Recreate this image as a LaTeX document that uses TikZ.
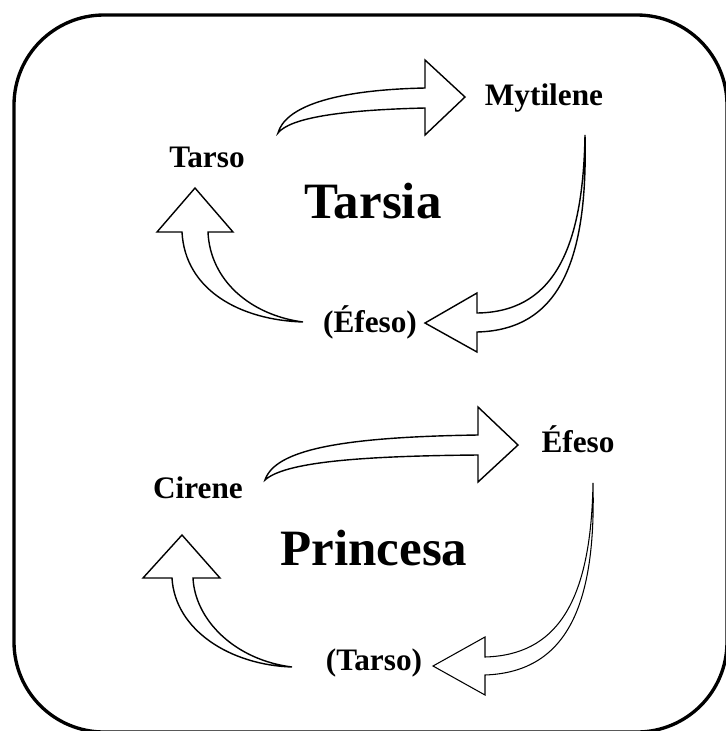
\documentclass[tikz,border=0pt]{standalone}
\usepackage{fontspec}
\setmainfont{Liberation Serif}
\usepackage{tikz}

\begin{document}
\begin{tikzpicture}[x=0.02cm, y=-0.02cm,
        place/.style = {anchor=base, font=\fontsize{17.8}{20}\selectfont\bfseries},
        title/.style = {anchor=base, font=\fontsize{29}{34}\selectfont\bfseries},
        blockarrow/.style = {draw, fill=white, line width=0.8pt, line join=miter}]
        \useasboundingbox (0,0) rectangle (725,731);
        \draw[line width=1.9pt, rounded corners=1.8cm] (14,15) rectangle (727,732);
        % Tarsia
        \node[place] (tarso) at (207,167) {Tarso};
        \node[place] (mytilene) at (544,105) {Mytilene};
        \node[place] (efeso) at (370,332) {(Éfeso)};
        \node[title] (tarsia) at (373,218) {Tarsia};
        \draw[blockarrow] (278,133) .. controls (285,108) and (330,90) .. (425,88)
            -- (425,60) -- (465,97) -- (425,135) -- (425,108)
            .. controls (340,110) and (290,118) .. cycle;
        \draw[blockarrow] (585,135) .. controls (588,260) and (560,330) .. (477,332)
            -- (477,352) -- (425,323) -- (477,293) -- (477,313)
            .. controls (550,312) and (583,255) .. cycle;
        \draw[blockarrow] (303,322) .. controls (240,320) and (185,290) .. (182,232)
            -- (157,232) -- (195,188) -- (233,232) -- (208,232)
            .. controls (210,280) and (250,315) .. cycle;
        % Princesa
        \node[place] (cirene) at (198,498) {Cirene};
        \node[place] (efeso2) at (578,452) {Éfeso};
        \node[place] (tarso2) at (374,670) {(Tarso)};
        \node[title] (princesa) at (374,565) {Princesa};
        \draw[blockarrow] (265,480) .. controls (275,450) and (340,437) .. (478,435)
            -- (478,407) -- (518,445) -- (478,482) -- (478,455)
            .. controls (360,456) and (285,462) .. cycle;
        \draw[blockarrow, line width=0.6pt] (593,483) .. controls (596,600) and (570,672) .. (485,675)
            -- (485,695) -- (433,666) -- (485,637) -- (485,657)
            .. controls (555,655) and (591,605) .. cycle;
        \draw[blockarrow] (292,667) .. controls (230,665) and (175,630) .. (172,578)
            -- (143,578) -- (182,535) -- (220,578) -- (193,578)
            .. controls (195,620) and (235,660) .. cycle;
    \end{tikzpicture}
\end{document}
